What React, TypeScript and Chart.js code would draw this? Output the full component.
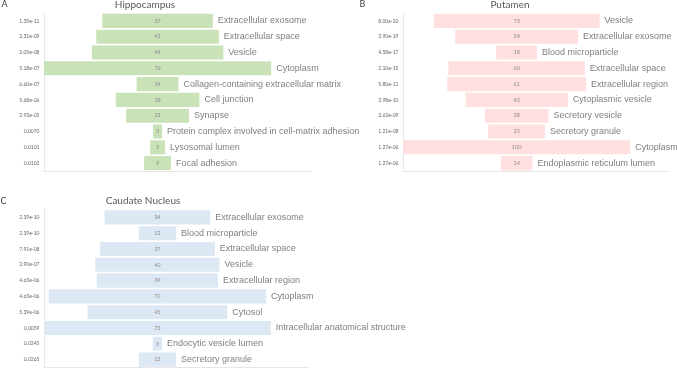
import React, { useEffect, useRef } from "react";
import { Chart, registerables } from "chart.js";

Chart.register(...registerables);

// GO cellular-component terms per brain region, top to bottom
const hippocampusTerms = [
  "Extracellular exosome",
  "Extracellular space",
  "Vesicle",
  "Cytoplasm",
  "Collagen-containing extracellular matrix",
  "Cell junction",
  "Synapse",
  "Protein complex involved in cell-matrix adhesion",
  "Lysosomal lumen",
  "Focal adhesion",
];
const hippocampusCounts = [37, 41, 44, 76, 14, 28, 21, 3, 5, 9];
const hippocampusPValues = [
  "1.39e-11", "3.31e-09", "2.05e-08", "5.18e-07", "6.60e-07",
  "5.68e-06", "2.93e-05", "0.0070", "0.0101", "0.0102",
];

const putamenTerms = [
  "Vesicle",
  "Extracellular exosome",
  "Blood microparticle",
  "Extracellular space",
  "Extracellular region",
  "Cytoplasmic vesicle",
  "Secretory vesicle",
  "Secretory granule",
  "Cytoplasm",
  "Endoplasmic reticulum lumen",
];
const putamenCounts = [73, 54, 18, 60, 61, 45, 28, 25, 100, 14];
const putamenPValues = [
  "8.00e-20", "3.90e-19", "4.58e-17", "2.10e-15", "5.80e-11",
  "3.98e-10", "3.62e-09", "1.21e-08", "1.27e-06", "1.27e-06",
];

const caudateTerms = [
  "Extracellular exosome",
  "Blood microparticle",
  "Extracellular space",
  "Vesicle",
  "Extracellular region",
  "Cytoplasm",
  "Cytosol",
  "Intracellular anatomical structure",
  "Endocytic vesicle lumen",
  "Secretory granule",
];
const caudateCounts = [34, 12, 37, 40, 39, 70, 45, 73, 3, 12];
const caudatePValues = [
  "2.39e-10", "2.39e-10", "7.91e-08", "2.90e-07", "4.65e-06",
  "4.65e-06", "5.39e-06", "0.0059", "0.0245", "0.0265",
];

const W = 677;
const H = 368;

type Panel = {
  letter: string;
  title: string;
  terms: string[];
  counts: number[];
  pValues: string[];
  color: string;
  xMax: number;
  area: { left: number; top: number; right: number; bottom: number };
  titleX: number;
  titleY: number;
  letterX: number;
  letterY: number;
};

const panels: Panel[] = [
  {
    letter: "A",
    title: "Hippocampus",
    terms: hippocampusTerms,
    counts: hippocampusCounts,
    pValues: hippocampusPValues,
    color: "#c9e2b8",
    xMax: 89,
    area: { left: 44, top: 13, right: 310, bottom: 171 },
    titleX: 145,
    titleY: 5,
    letterX: 4.5,
    letterY: 4.5,
  },
  {
    letter: "B",
    title: "Putamen",
    terms: putamenTerms,
    counts: putamenCounts,
    pValues: putamenPValues,
    color: "#ffdfdf",
    xMax: 116.6,
    area: { left: 403, top: 13, right: 668, bottom: 171 },
    titleX: 510,
    titleY: 5,
    letterX: 362.5,
    letterY: 4.5,
  },
  {
    letter: "C",
    title: "Caudate Nucleus",
    terms: caudateTerms,
    counts: caudateCounts,
    pValues: caudatePValues,
    color: "#dde8f5",
    xMax: 85,
    area: { left: 44, top: 209.5, right: 308, bottom: 367.5 },
    titleX: 143,
    titleY: 201,
    letterX: 3.5,
    letterY: 201,
  },
];

const AXIS_COLOR = "#e6e6e6";

function FunnelPanel({ panel }: { panel: Panel }) {
  const ref = useRef<HTMLCanvasElement | null>(null);

  useEffect(() => {
    if (!ref.current) return;
    const maxCount = Math.max(...panel.counts);

    // Count in the bar centre, term to the right, p-value left of the axis
    const labelsPlugin = {
      id: "funnelLabels",
      afterDatasetsDraw(chart: any) {
        const ctx = chart.ctx as CanvasRenderingContext2D;
        const left = chart.chartArea.left;
        const meta = chart.getDatasetMeta(0);
        ctx.save();
        ctx.textBaseline = "middle";
        meta.data.forEach((bar: any, i: number) => {
          const { x, y, base } = bar.getProps(["x", "y", "base"], true);
          const start = Math.min(x, base);
          const end = Math.max(x, base);

          ctx.font = "5.5px Lato";
          ctx.fillStyle = "#8c8c8c";
          ctx.textAlign = "center";
          ctx.fillText(String(panel.counts[i]), (start + end) / 2, y);

          ctx.font = '9px "Liberation Sans"';
          ctx.fillStyle = "#7f7f7f";
          ctx.textAlign = "left";
          ctx.fillText(panel.terms[i], end + 5, y);

          ctx.font = "5px Lato";
          ctx.fillStyle = "#666666";
          ctx.textAlign = "right";
          ctx.fillText(panel.pValues[i], left - 4.5, y);
        });

        ctx.font = "10px Lato";
        ctx.fillStyle = "#595959";
        ctx.textAlign = "center";
        ctx.fillText(panel.title, panel.titleX, panel.titleY);

        ctx.font = "9px Lato";
        ctx.fillStyle = "#404040";
        ctx.fillText(panel.letter, panel.letterX, panel.letterY);
        ctx.restore();
      },
    };

    const chart = new Chart(ref.current, {
      type: "bar",
      data: {
        labels: panel.terms,
        datasets: [
          {
            data: panel.counts.map((v) => [(maxCount - v) / 2, (maxCount + v) / 2]),
            backgroundColor: panel.color,
            borderWidth: 0,
            barPercentage: 0.89,
            categoryPercentage: 1,
          } as any,
        ],
      },
      options: {
        responsive: false,
        animation: false,
        indexAxis: "y",
        layout: {
          padding: {
            left: panel.area.left,
            top: panel.area.top,
            right: W - panel.area.right,
            bottom: H - panel.area.bottom,
          },
        },
        plugins: {
          legend: { display: false },
          tooltip: { enabled: false },
          title: { display: false },
        },
        scales: {
          x: {
            type: "linear",
            min: 0,
            max: panel.xMax,
            grid: { display: false, drawTicks: false },
            ticks: { display: false },
            border: { display: true, color: AXIS_COLOR, width: 1 },
            afterFit: (s: any) => {
              s.height = 0;
            },
          },
          y: {
            type: "category",
            grid: { display: false, drawTicks: false },
            ticks: { display: false },
            border: { display: true, color: AXIS_COLOR, width: 1 },
            afterFit: (s: any) => {
              s.width = 0;
            },
          },
        },
      } as any,
      plugins: [labelsPlugin],
    });

    return () => chart.destroy();
  }, [panel]);

  return (
    <canvas
      ref={ref}
      width={W}
      height={H}
      style={{ position: "absolute", left: 0, top: 0, width: W, height: H, display: "block" }}
    />
  );
}

export default function App() {
  return (
    <div
      style={{
        position: "absolute",
        left: 0,
        top: 0,
        width: W,
        height: H,
        background: "#ffffff",
        overflow: "hidden",
      }}
    >
      {panels.map((p) => (
        <FunnelPanel key={p.letter} panel={p} />
      ))}
    </div>
  );
}
